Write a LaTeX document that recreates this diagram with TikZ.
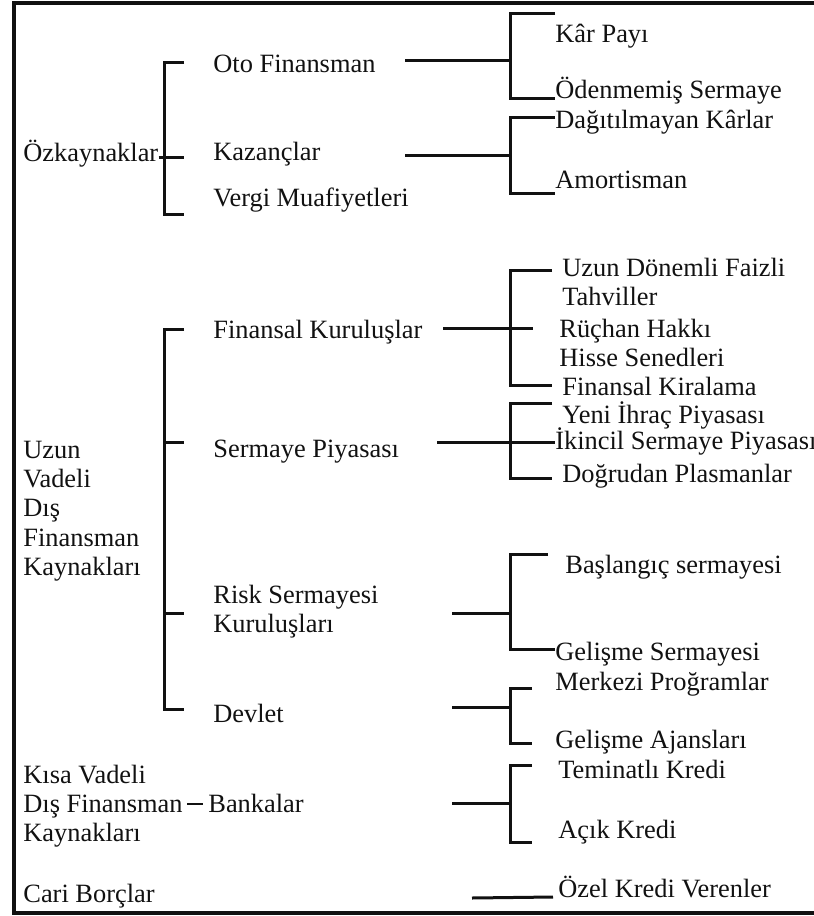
\documentclass[tikz,border=0pt]{standalone}
\usepackage{fontspec}
\setmainfont{Liberation Serif}
\usepackage{tikz}
\usetikzlibrary{calc}
\definecolor{ink}{HTML}{111111}
\newcommand\fstrut{\rule{0pt}{12.5pt}}
\tikzset{
  frame/.style={draw=ink, line width=2pt},
  brk/.style={draw=ink, line width=1.5pt, line join=miter},
  dashln/.style={draw=ink, line width=0.8pt},
  lab/.style={text=ink, font=\fontsize{13.2}{14.6}\selectfont, inner sep=0pt},
  item/.style={lab, anchor=base west},
  multi/.style={lab, align=left, anchor=north west, yshift=12.5pt},
}

\begin{document}
\begin{tikzpicture}[x=0.5pt, y=-0.5pt]
  \useasboundingbox (0,0) rectangle (814,916);
  \draw[frame] (814,3) -- (14,3) -- (14,913) -- (814,913);

  % left column
  \node[item] (ozk) at (23,161) {Özkaynaklar};
  \node[multi] (uzv) at (23,458) {\fstrut Uzun\\Vadeli\\Dış\\Finansman\\Kaynakları};
  \node[multi] (ksv) at (23,783) {\fstrut Kısa Vadeli\\Dış Finansman\\Kaynakları};
  \node[item] (cari) at (23,902) {Cari Borçlar};

  % middle column
  \node[item] (oto) at (213,72) {Oto Finansman};
  \node[item] (kaz) at (213,160) {Kazançlar};
  \node[item] (vergi) at (213,206) {Vergi Muafiyetleri};
  \node[item] (fkur) at (213,338) {Finansal Kuruluşlar};
  \node[item] (spiy) at (213,457) {Sermaye Piyasası};
  \node[multi] (risk) at (213,603) {\fstrut Risk Sermayesi\\Kuruluşları};
  \node[item] (dev) at (213,722) {Devlet};
  \node[item] (bank) at (208,812) {Bankalar};

  % right column
  \node[item] (kar) at (555,42) {Kâr Payı};
  \node[item] (odn) at (555,98) {Ödenmemiş Sermaye};
  \node[item] (dag) at (555,128) {Dağıtılmayan Kârlar};
  \node[item] (amo) at (555,188) {Amortisman};
  \node[multi] (tah) at (562,276) {\fstrut Uzun Dönemli Faizli\\Tahviller};
  \node[multi] (ruc) at (559,337) {\fstrut Rüçhan Hakkı\\Hisse Senedleri};
  \node[item] (kir) at (562,395) {Finansal Kiralama};
  \node[item] (yeni) at (562,423) {Yeni İhraç Piyasası};
  \node[item] (ikin) at (555,449) {İkincil Sermaye Piyasası};
  \node[item] (dog) at (562,482) {Doğrudan Plasmanlar};
  \node[item] (bas) at (565,573) {Başlangıç sermayesi};
  \node[item] (gsr) at (555,660) {Gelişme Sermayesi};
  \node[item] (mrk) at (555,690) {Merkezi Proğramlar};
  \node[item] (ajn) at (555,748) {Gelişme Ajansları};
  \node[item] (tem) at (558,778) {Teminatlı Kredi};
  \node[item] (acik) at (558,838) {Açık Kredi};
  \node[item] (ozel) at (558,897) {Özel Kredi Verenler};

  % brackets, left
  \draw[brk] (184,62) -| (164,214) -- (184,214);
  \draw[brk] (ozk.east |- 0,157) -- (184,157);
  \draw[brk] (184,329) -| (164,709) -- (184,709);
  \foreach \y in {442,613}
    \draw[brk] (164,\y) -- (184,\y);

  % brackets, right
  \draw[brk] (405,60) -- (510,60);
  \draw[brk] (kar.west |- 0,13) -| (510,98) -- (odn.west |- 0,98);
  \draw[brk] (405,155) -- (510,155);
  \draw[brk] (dag.west |- 0,117) -| (510,193) -- (amo.west |- 0,193);
  \draw[brk] (443,328) -- (533,328);
  \draw[brk] (552,270) -| (510,385) -- (552,385);
  \draw[brk] (437,442) -- (ikin.west |- 0,442);
  \draw[brk] (552,403) -| (510,478) -- (552,478);
  \draw[brk] (452,613) -- (510,613);
  \draw[brk] (548,554) -| (510,649) -- (gsr.west |- 0,649);
  \draw[brk] (452,707) -- (510,707);
  \draw[brk] (532,688) -| (510,743) -- (532,743);
  \draw[brk] (452,803) -- (510,803);
  \draw[brk] (532,765) -| (510,842) -- (532,842);

  % single links
  \draw[dashln] (187,804) -- ([xshift=-2.5pt]bank.west |- 0,804);
  \draw[brk] (472,898) -- ([xshift=-2.5pt]ozel.base west);
\end{tikzpicture}
\end{document}
